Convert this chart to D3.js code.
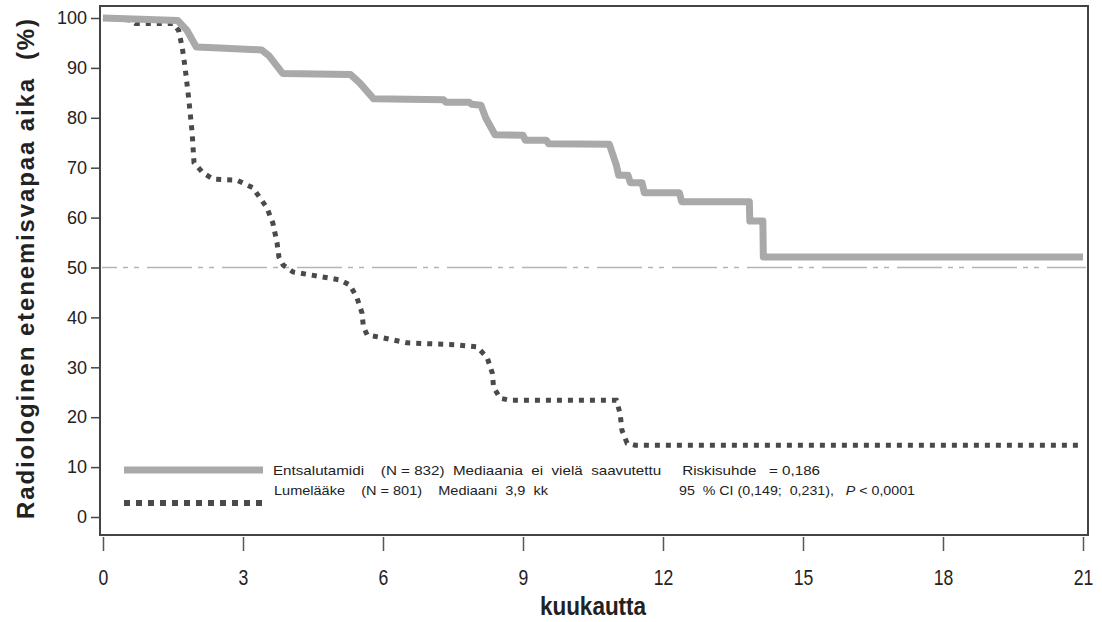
<!DOCTYPE html>
<html>
<head>
<meta charset="utf-8">
<script src="https://cdn.jsdelivr.net/npm/d3@7"></script>
<style>
  body { margin: 0; background: #fff; }
  svg text { font-family: "Liberation Sans", Arial, sans-serif; fill: #222; }
</style>
</head>
<body>
<div id="chart-container"></div>
<script>
// months, survival (%)
const enzaMonths = [0, 0.65, 1.6, 1.8, 2.0, 2.5, 3.4, 3.55, 3.85, 5.3, 5.5, 5.8, 7.3, 7.35, 7.85, 7.9, 8.1, 8.2, 8.4, 9.0, 9.05, 9.5, 9.55, 10.85, 11.0, 11.05, 11.25, 11.3, 11.55, 11.6, 12.35, 12.4, 13.85, 13.86, 14.14, 14.15, 21];
const enzaValues = [100, 99.8, 99.5, 97.5, 94.2, 94, 93.6, 92.5, 88.9, 88.7, 87, 83.8, 83.6, 83.1, 83.1, 82.7, 82.5, 80, 76.6, 76.5, 75.5, 75.5, 74.8, 74.7, 70.5, 68.5, 68.5, 67, 67, 65, 65, 63.2, 63.2, 59.3, 59.3, 52.1, 52.1];

const placeboMonths = [0, 0.6, 0.7, 1.5, 1.62, 1.7, 1.76, 1.84, 1.91, 1.95, 2.14, 2.36, 2.87, 3.21, 3.51, 3.64, 3.73, 3.77, 3.86, 4.07, 4.71, 5.08, 5.29, 5.44, 5.55, 5.58, 5.66, 6.0, 6.51, 7.59, 8.01, 8.23, 8.34, 8.37, 8.51, 8.72, 11.0, 11.08, 11.12, 11.23, 11.4, 21];
const placeboValues = [100, 99.6, 98.9, 98.9, 97.5, 94, 90, 83.6, 77, 71, 69, 67.7, 67.5, 66, 62, 58.9, 54.9, 52.1, 50.5, 49.1, 48.1, 47.5, 46.5, 44, 40.9, 38.1, 36.5, 35.9, 34.9, 34.5, 34.1, 32, 28.9, 26, 23.8, 23.4, 23.4, 20.8, 17.4, 14.8, 14.4, 14.4];

const xTicks = [0, 3, 6, 9, 12, 15, 18, 21];
const yTicks = [0, 10, 20, 30, 40, 50, 60, 70, 80, 90, 100];
const medianLine = 50;

const legendLine1 = "Entsalutamidi    (N = 832)  Mediaania  ei  vielä  saavutettu     Riskisuhde   = 0,186";
const legendLine2a = "Lumelääke    (N = 801)    Mediaani  3,9  kk";
const legendLine2b = "95  % CI (0,149;  0,231),   ";
const legendLine2c = " < 0,0001";

const W = 1102, H = 622;
const box = { left: 100, right: 1088, top: 6, bottom: 535 };

const x = d3.scaleLinear().domain([0, 21]).range([103, 1083]);
const y = d3.scaleLinear().domain([0, 100]).range([517, 18]);

const svg = d3.select("#chart-container")
    .append("svg")
    .attr("width", W)
    .attr("height", H);

// plot frame
svg.append("rect")
    .attr("x", box.left)
    .attr("y", box.top)
    .attr("width", box.right - box.left)
    .attr("height", box.bottom - box.top)
    .attr("fill", "none")
    .attr("stroke", "#444")
    .attr("stroke-width", 2);

// y axis
const yAxis = svg.append("g")
    .attr("transform", `translate(${box.left},0)`)
    .call(d3.axisLeft(y).tickValues(yTicks).tickSize(9).tickPadding(4));
yAxis.select(".domain").remove();
yAxis.selectAll("line").attr("stroke", "#444").attr("stroke-width", 1.5);
yAxis.selectAll("text")
    .style("font-size", "18px")
    .attr("fill", "#222");

// x axis (ticks only, below the frame)
const xAxis = svg.append("g")
    .attr("transform", `translate(0,${box.bottom + 2})`)
    .call(d3.axisBottom(x).tickValues(xTicks).tickSize(14).tickPadding(18));
xAxis.select(".domain").remove();
xAxis.selectAll("line").attr("stroke", "#555").attr("stroke-width", 1.5);
xAxis.selectAll("text")
    .style("font-size", "22px")
    .attr("fill", "#222")
    .attr("transform", "scale(0.8,1)");

// axis titles
svg.append("text")
    .attr("transform", `translate(34,269) rotate(-90)`)
    .attr("text-anchor", "middle")
    .attr("xml:space", "preserve")
    .attr("textLength", 500)
    .attr("lengthAdjust", "spacing")
    .style("font-size", "24px")
    .style("font-weight", "bold")
    .style("white-space", "pre")
    .text("Radiologinen etenemisvapaa aika  (%)");

svg.append("text")
    .attr("transform", "translate(593,615) scale(0.9,1)")
    .attr("text-anchor", "middle")
    .style("font-size", "25px")
    .style("font-weight", "bold")
    .text("kuukautta");

// 50 % reference line
svg.append("line")
    .attr("x1", box.left + 2)
    .attr("x2", box.right - 2)
    .attr("y1", y(medianLine))
    .attr("y2", y(medianLine))
    .attr("stroke", "#b4b4b4")
    .attr("stroke-width", 1.5)
    .attr("stroke-dasharray", "45,6,5,6,5,8")
    .attr("stroke-dashoffset", 30);

const line = d3.line()
    .x(d => x(d[0]))
    .y(d => y(d[1]));

const placebo = placeboMonths.map((m, i) => [m, placeboValues[i]]);
const enza = enzaMonths.map((m, i) => [m, enzaValues[i]]);

svg.append("path")
    .datum(placebo)
    .attr("fill", "none")
    .attr("stroke", "#4a4a4a")
    .attr("stroke-width", 5)
    .attr("stroke-dasharray", "5,6")
    .attr("d", line);

svg.append("path")
    .datum(enza)
    .attr("fill", "none")
    .attr("stroke", "#a9a9a9")
    .attr("stroke-width", 7)
    .attr("stroke-linejoin", "round")
    .attr("d", line);

// legend
svg.append("line")
    .attr("x1", 124).attr("x2", 263)
    .attr("y1", 470).attr("y2", 470)
    .attr("stroke", "#a9a9a9")
    .attr("stroke-width", 7);

svg.append("line")
    .attr("x1", 124).attr("x2", 263)
    .attr("y1", 503).attr("y2", 503)
    .attr("stroke", "#4a4a4a")
    .attr("stroke-width", 6)
    .attr("stroke-dasharray", "6,6");

const legendText = svg.append("g")
    .style("font-size", "13.5px");

legendText.append("text")
    .attr("x", 273).attr("y", 475)
    .attr("xml:space", "preserve")
    .style("white-space", "pre")
    .attr("textLength", 547)
    .attr("lengthAdjust", "spacingAndGlyphs")
    .text(legendLine1);

legendText.append("text")
    .attr("x", 274).attr("y", 495)
    .attr("xml:space", "preserve")
    .style("white-space", "pre")
    .attr("textLength", 274)
    .attr("lengthAdjust", "spacingAndGlyphs")
    .text(legendLine2a);

const l2 = legendText.append("text")
    .attr("x", 679).attr("y", 495)
    .attr("xml:space", "preserve")
    .style("white-space", "pre")
    .attr("textLength", 236)
    .attr("lengthAdjust", "spacingAndGlyphs");
l2.append("tspan").text(legendLine2b);
l2.append("tspan").style("font-style", "italic").text("P");
l2.append("tspan").text(legendLine2c);
</script>
</body>
</html>
